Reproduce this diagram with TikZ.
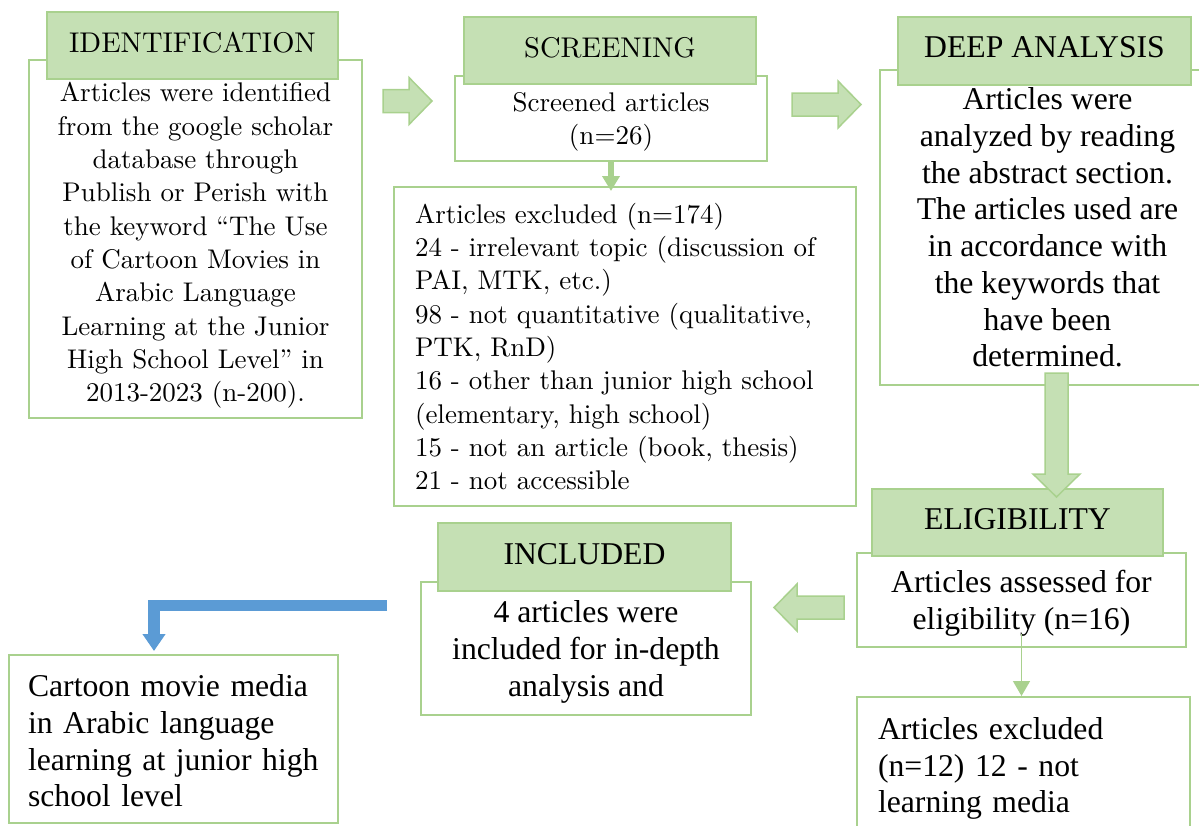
\documentclass[tikz,border=0pt]{standalone}
\usepackage{fontspec}
\newfontfamily\timesfont{Liberation Serif}
\newfontfamily\palfont{lmroman10-regular.otf}
\usepackage{tikz}
\usetikzlibrary{arrows.meta, positioning, calc}

\definecolor{headfill}{HTML}{C5E0B4}
\definecolor{boxline}{HTML}{A9D18E}
\definecolor{flowblue}{HTML}{5B9BD5}

\begin{document}
\begin{tikzpicture}[
    x=1pt, y=-1pt,
    body/.style={rectangle, draw=boxline, fill=white, line width=2pt, inner sep=0pt, align=center},
    listbody/.style={rectangle, draw=boxline, fill=white, line width=2pt, inner xsep=21pt, inner ysep=0pt, align=left},
    head/.style={rectangle, draw=boxline, fill=headfill, line width=2pt, inner sep=0pt, text depth=7pt},
    palbody/.style={font={\palfont\fontsize{27}{33.3}\selectfont}},
    palhead/.style={font={\palfont\fontsize{28.5}{30}\selectfont}},
    serhead/.style={font={\timesfont\fontsize{31.7}{36}\selectfont}},
    serbody/.style={font={\timesfont\fontsize{31.7}{36.7}\selectfont}},
    blockarrow/.style={draw=boxline, fill=headfill, line width=1.5pt, line join=miter},
    fatarrow/.pic={\draw[blockarrow] (0,-11.5) -- (#1-23,-11.5) -- (#1-23,-23.5) -- (#1,0) -- (#1-23,23.5) -- (#1-23,11.5) -- (0,11.5) -- cycle;},
    thinarrow/.style={draw=boxline, -{Triangle[width=17pt, length=15pt]}},
    bluearrow/.style={draw=flowblue, line width=11.5pt, -{Triangle[width=22pt, length=17pt]}},
]
\path[use as bounding box, clip] (0,0) rectangle (1199,825);

% Identification and screening
\node[body, palbody, minimum width=333pt, minimum height=358pt, text height=332pt] (idbody) at (195.5,239) {Articles were identified\\from the google scholar\\database through\\Publish or Perish with\\the keyword “The Use\\of Cartoon Movies in\\Arabic Language\\Learning at the Junior\\High School Level” in\\2013-2023 (n-200).};
\node[head, palhead, minimum width=291pt, minimum height=67pt] (idhead) at (192.5,45.5) {IDENTIFICATION};

\node[body, palbody, minimum width=312pt, minimum height=85pt, text depth=-1pt] (scrbody) at (611,118.5) {Screened articles\\(n=26)};
\node[head, palhead, minimum width=292pt, minimum height=67pt] (scrhead) at (610,50.5) {SCREENING};

\node[listbody, palbody, text width=420pt, minimum height=319pt] (excl) at (625,346.5) {Articles excluded (n=174)\\24 - irrelevant topic (discussion of\\PAI, MTK, etc.)\\98 - not quantitative (qualitative,\\PTK, RnD)\\16 - other than junior high school\\(elementary, high school)\\15 - not an article (book, thesis)\\21 - not accessible};

% Deep analysis and eligibility
\node[body, serbody, minimum width=335pt, minimum height=315pt] (deepbody) at (1047.5,227.5) {Articles were\\analyzed by reading\\the abstract section.\\The articles used are\\in accordance with\\the keywords that\\have been\\determined.};
\node[head, serhead, minimum width=293pt, minimum height=68pt] (deephead) at (1044.5,51) {DEEP ANALYSIS};

\node[body, serbody, minimum width=329pt, minimum height=94pt, text depth=-1pt] (eligbody) at (1021.5,600) {Articles assessed for\\eligibility (n=16)};
\node[head, serhead, minimum width=291pt, minimum height=67pt] (elighead) at (1017.5,522.5) {ELIGIBILITY};

\node[listbody, serbody, text width=291pt, minimum height=138pt, text height=27pt] (excl2) at (1023.5,766) {Articles excluded\\(n=12) 12 - not\\learning media};

% Included and result
\node[body, serbody, minimum width=330pt, minimum height=133pt, text depth=-5pt] (inclbody) at (586,648.5) {4 articles were\\included for in-depth\\analysis and};
\node[head, serhead, minimum width=293pt, minimum height=68pt] (inclhead) at (584.5,557) {INCLUDED};

\node[listbody, serbody, inner xsep=19pt, text width=291pt, minimum height=168pt, text height=26pt] (final) at (173.5,739) {Cartoon movie media\\in Arabic language\\learning at junior high\\school level};

% Block arrows
\coordinate (idtoscr) at (383,101);
\coordinate (scrtodeep) at (792,104.5);
\coordinate (deeptoelig) at (1056.5,373);
\coordinate (eligtoincl) at (844,607.5);
\pic at (idtoscr) {fatarrow=49};
\pic at (scrtodeep) {fatarrow=69};
\pic[rotate=-90] at (deeptoelig) {fatarrow=124};
\pic[rotate=180] at (eligtoincl) {fatarrow=70};

% Thin arrows
\draw[thinarrow, line width=6pt] (scrbody.south) -- ($(scrbody.south |- excl.north)+(0,5)$);
\draw[thinarrow, line width=1.5pt] ($(eligbody.south)+(0,-14)$) -- (eligbody.south |- excl2.north);

% Result arrow
\coordinate (bluestart) at (387,605.5);
\coordinate (blueturn) at (154,605.5);
\draw[bluearrow, shorten >=3pt] (bluestart) -- (blueturn) -- (blueturn |- final.north);

\end{tikzpicture}
\end{document}
